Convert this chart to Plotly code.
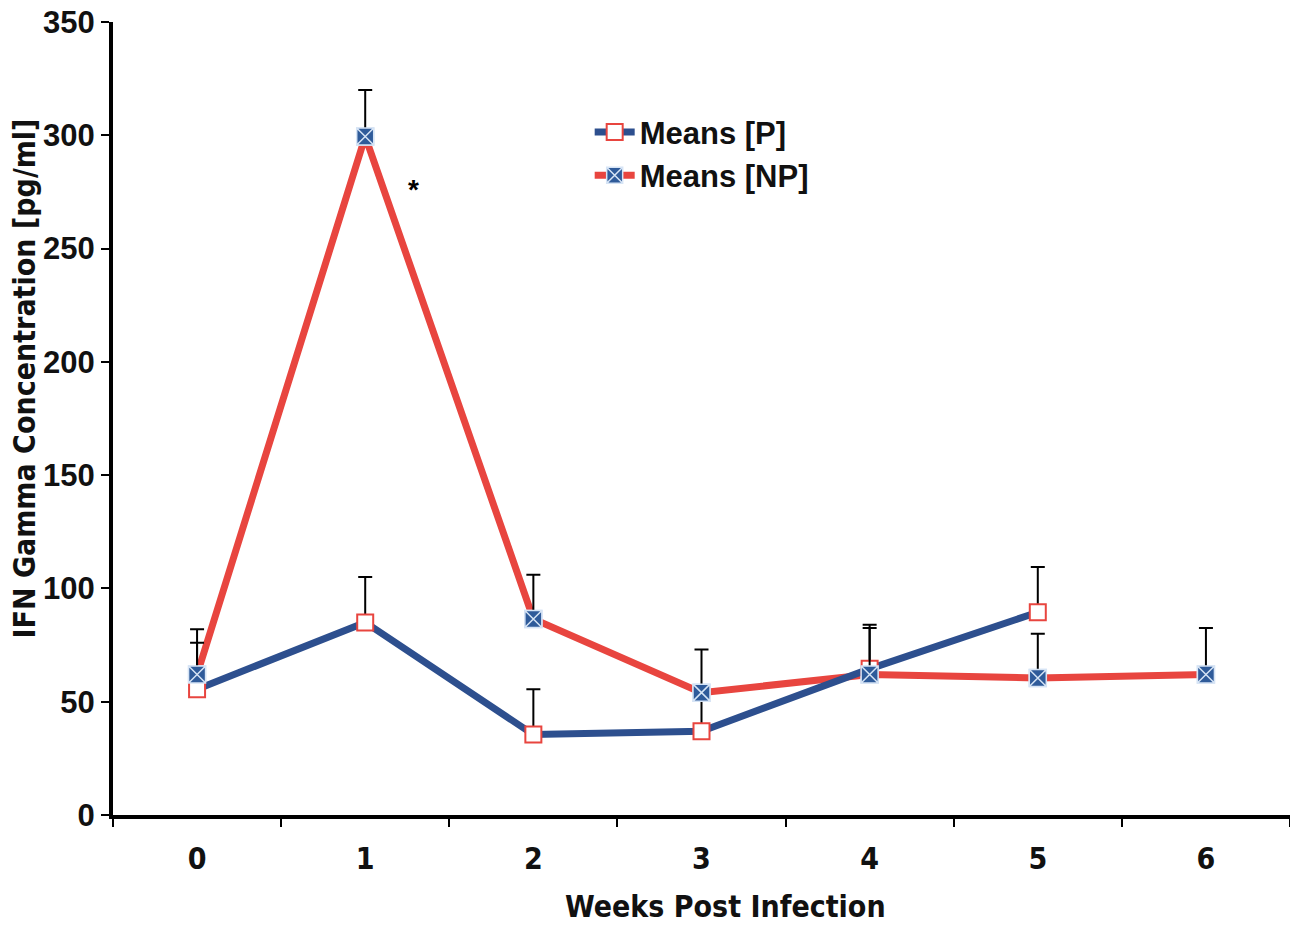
import plotly.graph_objects as go

weeks = ["0", "1", "2", "3", "4", "5", "6"]
weeks_p = ["0", "1", "2", "3", "4", "5"]
means_p = [55.5, 85, 35.5, 37, 64.5, 89.5]
err_p = [20.5, 20, 20, 17, 19.5, 20]
means_np = [62, 299.5, 86.5, 54, 62, 60.5, 62]
err_np = [20, 20.5, 19.5, 19, 20.5, 19.5, 20.5]

BLUE = "#2D4F8E"
RED = "#E8453F"
MBLUE = "#2F5B9A"
NARROW = "Liberation Sans Narrow, DejaVu Sans Condensed, Arial Narrow, Liberation Sans, sans-serif"

fig = go.Figure()

fig.add_trace(go.Scatter(
    x=weeks, y=means_np, mode="lines+markers", name="<b>Means [NP]</b>",
    line=dict(color=RED, width=7), legendrank=2,
    marker=dict(symbol="square-x", size=17, color=MBLUE,
                line=dict(color="#D6E4F5", width=1.5)),
))
fig.add_trace(go.Scatter(
    x=weeks_p, y=means_p, mode="lines+markers", name="<b>Means [P]</b>",
    line=dict(color=BLUE, width=7), legendrank=1,
    marker=dict(symbol="square", size=16, color="white",
                line=dict(color=RED, width=2)),
    error_y=dict(type="data", array=err_p, arrayminus=[0] * len(err_p),
                 symmetric=False, color="black", thickness=2, width=7),
))
fig.add_trace(go.Scatter(
    x=weeks, y=means_np, mode="markers", showlegend=False,
    marker=dict(symbol="square-x", size=17, color=MBLUE,
                line=dict(color="#D6E4F5", width=1.5)),
    error_y=dict(type="data", array=err_np, arrayminus=[0] * len(err_np),
                 symmetric=False, color="black", thickness=2, width=7),
))

fig.add_annotation(x=1.29, y=276, text="<b>*</b>", showarrow=False,
                   font=dict(family="Liberation Sans", size=28, color="black"))

# axis titles
fig.add_annotation(xref="paper", yref="paper", x=0.52, y=-0.116,
                   xanchor="center", yanchor="middle", showarrow=False,
                   text="<b>Weeks Post Infection</b>",
                   font=dict(family=NARROW, size=30, color="#111"))
fig.add_annotation(xref="paper", yref="paper", x=-0.075, y=0.55,
                   xanchor="center", yanchor="middle", showarrow=False,
                   textangle=-90,
                   text="<b>IFN Gamma Concentration [pg/ml]</b>",
                   font=dict(family=NARROW, size=30, color="#111"))

fig.update_layout(
    width=1290, height=929,
    margin=dict(l=113, r=0, t=22, b=114),
    paper_bgcolor="white", plot_bgcolor="white",
    showlegend=True,
    legend=dict(x=0.405, y=0.895, xanchor="left", yanchor="top",
                bgcolor="rgba(0,0,0,0)",
                font=dict(family="Liberation Sans", size=31, color="#111"),
                itemwidth=40, tracegroupgap=0),
    xaxis=dict(
        type="category", range=[-0.5, 6.5], tickson="boundaries",
        tickvals=weeks, ticktext=["<b>%s</b>" % w for w in weeks],
        showline=True, linecolor="black", linewidth=4,
        ticks="outside", ticklen=8, tickwidth=2, tickcolor="black",
        ticklabelstandoff=14,
        showgrid=False, zeroline=False,
        tickfont=dict(family=NARROW, size=30, color="#111"),
    ),
    yaxis=dict(
        range=[0, 350], tickmode="array", tickvals=[0, 50, 100, 150, 200, 250, 300, 350],
        ticktext=["<b>0</b>", "<b>50</b>", "<b>100</b>", "<b>150</b>", "<b>200</b>",
                  "<b>250</b>", "<b>300</b>", "<b>350</b>"],
        showline=True, linecolor="black", linewidth=4,
        ticks="outside", ticklen=8, tickwidth=2, tickcolor="black",
        showgrid=False, zeroline=False,
        tickfont=dict(family="Liberation Sans", size=31, color="#111"),
    ),
)

fig.write_html("out.html")
